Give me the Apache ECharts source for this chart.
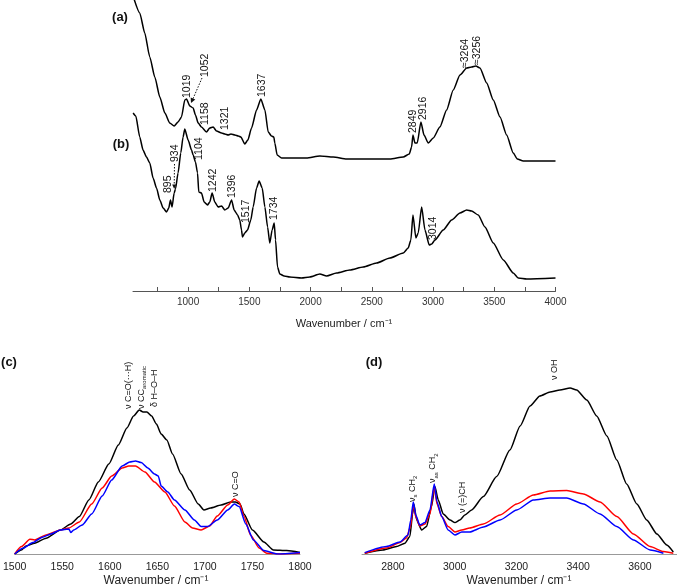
<!DOCTYPE html>
<html><head><meta charset="utf-8">
<script src="https://cdn.jsdelivr.net/npm/echarts@6/dist/echarts.min.js"></script>
<style>html,body{margin:0;padding:0;background:#fff}#c{width:677px;height:587px}</style>
</head><body><div id="c"></div>
<script>
// ---- Data (wavenumber cm-1, absorbance a.u.) ----
const topTickLabels = [1000,1500,2000,2500,3000,3500,4000];
const topTickMarks = [750,1000,1250,1500,1750,2000,2250,2500,2750,3000,3250,3500,3750,4000];
const cTickLabels = [1500,1550,1600,1650,1700,1750,1800];
const dTickLabels = [2800,3000,3200,3400,3600];

const specA = [[556,2.93],[605,2.78],[646,2.58],[687,2.34],[728,2.14],[769,1.94],[810,1.78],[850,1.68],[886,1.65],[918,1.69],[946,1.74],[973,1.91],[987,1.92],[1014,1.85],[1041,1.83],[1060,1.76],[1082,1.68],[1109,1.64],[1150,1.59],[1177,1.63],[1204,1.64],[1232,1.60],[1273,1.58],[1300,1.57],[1327,1.56],[1350,1.57],[1382,1.56],[1410,1.55],[1431,1.54],[1463,1.47],[1488,1.51],[1518,1.63],[1559,1.81],[1594,1.92],[1627,1.81],[1654,1.59],[1681,1.55],[1700,1.54],[1708,1.48],[1727,1.36],[1763,1.33],[1858,1.33],[1967,1.33],[2076,1.35],[2185,1.34],[2294,1.32],[2484,1.32],[2648,1.32],[2757,1.34],[2806,1.37],[2825,1.44],[2836,1.56],[2852,1.48],[2871,1.48],[2901,1.69],[2926,1.56],[2961,1.48],[3002,1.53],[3056,1.64],[3111,1.81],[3165,2.01],[3220,2.16],[3275,2.23],[3315,2.24],[3350,2.25],[3383,2.23],[3438,2.08],[3492,1.91],[3547,1.74],[3601,1.56],[3655,1.38],[3688,1.32],[3737,1.30],[3873,1.30],[4000,1.30]];

const specB = [[551,1.78],[573,1.75],[605,1.54],[632,1.41],[660,1.34],[687,1.28],[714,1.13],[742,1.03],[769,0.91],[796,0.83],[824,0.79],[842,0.83],[856,0.91],[869,0.84],[886,0.98],[897,1.02],[918,1.18],[940,1.38],[959,1.54],[973,1.62],[1000,1.51],[1028,1.41],[1041,1.36],[1060,1.29],[1077,1.18],[1087,0.99],[1109,0.98],[1131,0.89],[1158,0.86],[1177,0.89],[1196,0.98],[1218,0.89],[1245,0.84],[1273,0.85],[1300,0.81],[1327,0.83],[1355,0.91],[1376,0.81],[1404,0.76],[1422,0.71],[1436,0.61],[1444,0.54],[1463,0.58],[1485,0.61],[1512,0.71],[1531,0.84],[1559,1.03],[1580,1.10],[1605,1.03],[1627,0.84],[1649,0.64],[1667,0.48],[1686,0.61],[1703,0.68],[1714,0.51],[1730,0.24],[1749,0.17],[1784,0.15],[1831,0.14],[1926,0.13],[1994,0.14],[2076,0.17],[2131,0.15],[2212,0.18],[2321,0.21],[2430,0.24],[2539,0.28],[2648,0.33],[2757,0.38],[2797,0.43],[2819,0.51],[2836,0.76],[2860,0.53],[2879,0.58],[2907,0.84],[2934,0.61],[2969,0.46],[2989,0.47],[3016,0.51],[3083,0.61],[3152,0.71],[3220,0.78],[3275,0.81],[3315,0.80],[3369,0.76],[3424,0.64],[3492,0.48],[3574,0.31],[3655,0.18],[3696,0.13],[3765,0.12],[4000,0.13]];

const cBlack = [[1500,0],[1507,0.02],[1512,0.04],[1521,0.054],[1533,0.079],[1548,0.12],[1559,0.15],[1568,0.187],[1578,0.27],[1588,0.36],[1599,0.45],[1609,0.545],[1618,0.63],[1625,0.69],[1631,0.72],[1635,0.71],[1639,0.71],[1644,0.69],[1649,0.65],[1654,0.60],[1660,0.57],[1666,0.50],[1675,0.40],[1684,0.32],[1693,0.25],[1699,0.22],[1706,0.23],[1717,0.245],[1727,0.26],[1732,0.26],[1737,0.25],[1741,0.20],[1750,0.12],[1762,0.06],[1772,0.02],[1786,0.017],[1800,0.008]];
const cRed = [[1500,0],[1507,0.037],[1516,0.074],[1521,0.07],[1533,0.095],[1548,0.12],[1557,0.13],[1568,0.16],[1581,0.25],[1592,0.33],[1602,0.39],[1613,0.43],[1620,0.44],[1627,0.44],[1637,0.41],[1647,0.36],[1658,0.31],[1668,0.24],[1679,0.16],[1687,0.13],[1696,0.12],[1705,0.14],[1713,0.19],[1724,0.245],[1731,0.275],[1736,0.26],[1741,0.19],[1748,0.095],[1757,0.03],[1765,0.004],[1779,0],[1800,0.004]];
const cBlue = [[1500,0],[1509,0.03],[1519,0.057],[1529,0.084],[1538,0.10],[1548,0.12],[1557,0.125],[1559,0.107],[1562,0.12],[1571,0.145],[1581,0.20],[1592,0.29],[1602,0.37],[1613,0.44],[1621,0.46],[1627,0.465],[1633,0.457],[1640,0.43],[1647,0.40],[1651,0.39],[1654,0.34],[1661,0.31],[1668,0.27],[1679,0.22],[1689,0.17],[1696,0.137],[1703,0.137],[1713,0.17],[1724,0.22],[1731,0.25],[1736,0.237],[1743,0.15],[1751,0.07],[1762,0.017],[1776,0],[1800,0.008]];

const dBlack = [[2709,0.004],[2768,0.02],[2812,0.037],[2839,0.054],[2855,0.087],[2864,0.20],[2868,0.25],[2877,0.17],[2893,0.12],[2909,0.137],[2925,0.237],[2936,0.337],[2947,0.27],[2963,0.20],[2985,0.17],[3001,0.157],[3017,0.17],[3033,0.195],[3055,0.22],[3093,0.287],[3136,0.387],[3179,0.52],[3212,0.64],[3244,0.74],[3276,0.79],[3309,0.81],[3341,0.82],[3374,0.83],[3395,0.82],[3428,0.77],[3460,0.69],[3493,0.59],[3525,0.47],[3557,0.35],[3590,0.25],[3622,0.17],[3655,0.10],[3687,0.045],[3708,0.01]];
const dRed = [[2709,0.004],[2779,0.03],[2823,0.057],[2844,0.08],[2857,0.137],[2866,0.245],[2874,0.187],[2887,0.14],[2904,0.15],[2920,0.20],[2934,0.337],[2943,0.25],[2958,0.187],[2979,0.137],[3001,0.11],[3023,0.12],[3049,0.13],[3093,0.15],[3147,0.195],[3201,0.25],[3255,0.295],[3309,0.315],[3363,0.317],[3417,0.30],[3471,0.26],[3525,0.187],[3579,0.10],[3633,0.037],[3676,0.012],[3708,0.004]];
const dBlue = [[2709,0.007],[2779,0.037],[2823,0.06],[2849,0.095],[2858,0.17],[2866,0.26],[2874,0.195],[2887,0.145],[2904,0.157],[2920,0.22],[2934,0.35],[2943,0.26],[2958,0.187],[2979,0.12],[3001,0.095],[3023,0.11],[3049,0.11],[3093,0.135],[3147,0.17],[3201,0.22],[3255,0.27],[3309,0.28],[3363,0.28],[3417,0.25],[3471,0.20],[3525,0.137],[3579,0.07],[3633,0.02],[3676,0.004]];

// ---- Chart ----
const chart = echarts.init(document.getElementById('c'), null, {renderer:'canvas'});
const NUM = 'Liberation Sans, Arial, sans-serif';
const plain = v => String(v);

function vtext(x, yb, text, size, rich, color){
  return {type:'text', x:x, y:yb, rotation:Math.PI/2, z:50,
    style:{text:text, fontSize:size||10.5, fontFamily:NUM, fill:color||'#111',
      align:'left', verticalAlign:'middle', rich:rich}};
}
const subRich = {
  n:{fontSize:9, fontFamily:NUM, fill:'#111', lineHeight:12, verticalAlign:'middle'},
  s:{fontSize:6, fontFamily:NUM, fill:'#111', lineHeight:12, verticalAlign:'bottom'}
};
function line(pts, color){ return {type:'line', data:pts, showSymbol:false, smooth:0.2, smoothMonotone:'x', lineStyle:{color:color, width:1.5}, itemStyle:{color:color}, silent:true, animation:false}; }

const option = {
  animation:false,
  backgroundColor:'#fff',
  grid:[
    {left:133, right:121.5, top:0, height:291},
    {left:12, right:377, top:370, height:184},
    {left:362, right:0, top:370, height:184}
  ],
  xAxis:[
    {gridIndex:0, type:'value', min:550, max:4000,
     axisLine:{lineStyle:{color:'#555', width:1}},
     axisTick:{show:true, inside:true, length:4, customValues:topTickMarks, lineStyle:{color:'#555'}},
     axisLabel:{customValues:topTickLabels, formatter:plain, fontSize:10, fontFamily:NUM, color:'#333', margin:6},
     splitLine:{show:false}},
    {gridIndex:1, type:'value', min:1500, max:1800, interval:50,
     axisLine:{lineStyle:{color:'#999', width:1}},
     axisTick:{show:false},
     axisLabel:{customValues:cTickLabels, formatter:plain, fontSize:10.5, fontFamily:NUM, color:'#222', margin:8},
     splitLine:{show:false}},
    {gridIndex:2, type:'value', min:2700, max:3720,
     axisLine:{lineStyle:{color:'#999', width:1}},
     axisTick:{show:false},
     axisLabel:{customValues:dTickLabels, formatter:plain, fontSize:10.5, fontFamily:NUM, color:'#222', margin:8},
     splitLine:{show:false}}
  ],
  yAxis:[
    {gridIndex:0, type:'value', min:0, max:2.91, show:false},
    {gridIndex:1, type:'value', min:0, max:0.92, show:false},
    {gridIndex:2, type:'value', min:0, max:0.92, show:false}
  ],
  series:[
    Object.assign(line(specA,'#000'),{xAxisIndex:0,yAxisIndex:0}),
    Object.assign(line(specB,'#000'),{xAxisIndex:0,yAxisIndex:0}),
    Object.assign(line(cBlack,'#000'),{xAxisIndex:1,yAxisIndex:1}),
    Object.assign(line(cRed,'#ff0000'),{xAxisIndex:1,yAxisIndex:1}),
    Object.assign(line(cBlue,'#0000ff'),{xAxisIndex:1,yAxisIndex:1}),
    Object.assign(line(dBlack,'#000'),{xAxisIndex:2,yAxisIndex:2}),
    Object.assign(line(dRed,'#ff0000'),{xAxisIndex:2,yAxisIndex:2}),
    Object.assign(line(dBlue,'#0000ff'),{xAxisIndex:2,yAxisIndex:2})
  ],
  graphic:[
    {type:'text', x:120, y:17, z:50, style:{text:'(a)', fontSize:13, fontWeight:'bold', fontFamily:NUM, fill:'#111', align:'center', verticalAlign:'middle'}},
    {type:'text', x:121, y:144, z:50, style:{text:'(b)', fontSize:13, fontWeight:'bold', fontFamily:NUM, fill:'#111', align:'center', verticalAlign:'middle'}},
    {type:'text', x:9, y:362, z:50, style:{text:'(c)', fontSize:13, fontWeight:'bold', fontFamily:NUM, fill:'#111', align:'center', verticalAlign:'middle'}},
    {type:'text', x:374, y:362, z:50, style:{text:'(d)', fontSize:13, fontWeight:'bold', fontFamily:NUM, fill:'#111', align:'center', verticalAlign:'middle'}},
    {type:'text', x:344, y:324, z:50, style:{text:'Wavenumber / cm\u207B\u00B9', fontSize:11, fontFamily:NUM, fill:'#222', align:'center', verticalAlign:'middle'}},
    {type:'text', x:156, y:581, z:50, style:{text:'Wavenumber / cm\u207B\u00B9', fontSize:12, fontFamily:NUM, fill:'#222', align:'center', verticalAlign:'middle'}},
    {type:'text', x:519, y:581, z:50, style:{text:'Wavenumber / cm\u207B\u00B9', fontSize:12, fontFamily:NUM, fill:'#222', align:'center', verticalAlign:'middle'}},
    vtext(187, 98, '1019'),
    vtext(205, 77, '1052'),
    vtext(205, 125, '1158'),
    vtext(225, 130, '1321'),
    vtext(262, 97, '1637'),
    vtext(168, 193, '895'),
    vtext(175, 162, '934'),
    vtext(199, 160, '1104'),
    vtext(213, 192, '1242'),
    vtext(232.5, 198, '1396'),
    vtext(246, 223, '1517'),
    vtext(274.5, 220, '1734'),
    vtext(412.7, 133, '2849'),
    vtext(422.7, 120, '2916'),
    vtext(465, 68, '\u22483264'),
    vtext(477, 65, '\u22483256'),
    vtext(433.3, 240, '3014'),
    {type:'line', z:50, shape:{x1:202, y1:78, x2:192, y2:101}, style:{stroke:'#111', lineWidth:1, lineDash:[1.5,1.5]}},
    {type:'polygon', z:50, shape:{points:[[191,103],[195.3,99.4],[190.7,97.4]]}, style:{fill:'#111'}},
    {type:'line', z:50, shape:{x1:174.5, y1:164, x2:174.2, y2:186}, style:{stroke:'#111', lineWidth:1, lineDash:[1.5,1.5]}},
    {type:'polygon', z:50, shape:{points:[[174.2,189],[176.2,184.5],[172.2,184.5]]}, style:{fill:'#111'}},
    vtext(128.5, 409, '\u03BD C=O(\u00B7\u00B7\u00B7H)', 9),
    vtext(141.5, 409, '{n|\u03BD CC}{s|aromatic}', 9, subRich),
    vtext(155, 407, '\u03B4 H\u2013O\u2013H', 9),
    vtext(235.5, 497, '\u03BD C=O', 9),
    vtext(412.5, 502, '{n|\u03BD}{s|s}{n| CH}{s|2}', 9, subRich),
    vtext(433, 483, '{n|\u03BD}{s|as}{n| CH}{s|2}', 9, subRich),
    vtext(462.5, 513, '\u03BD (=)CH', 9),
    vtext(555, 380, '\u03BD OH', 9)
  ]
};
chart.setOption(option);
</script></body></html>
